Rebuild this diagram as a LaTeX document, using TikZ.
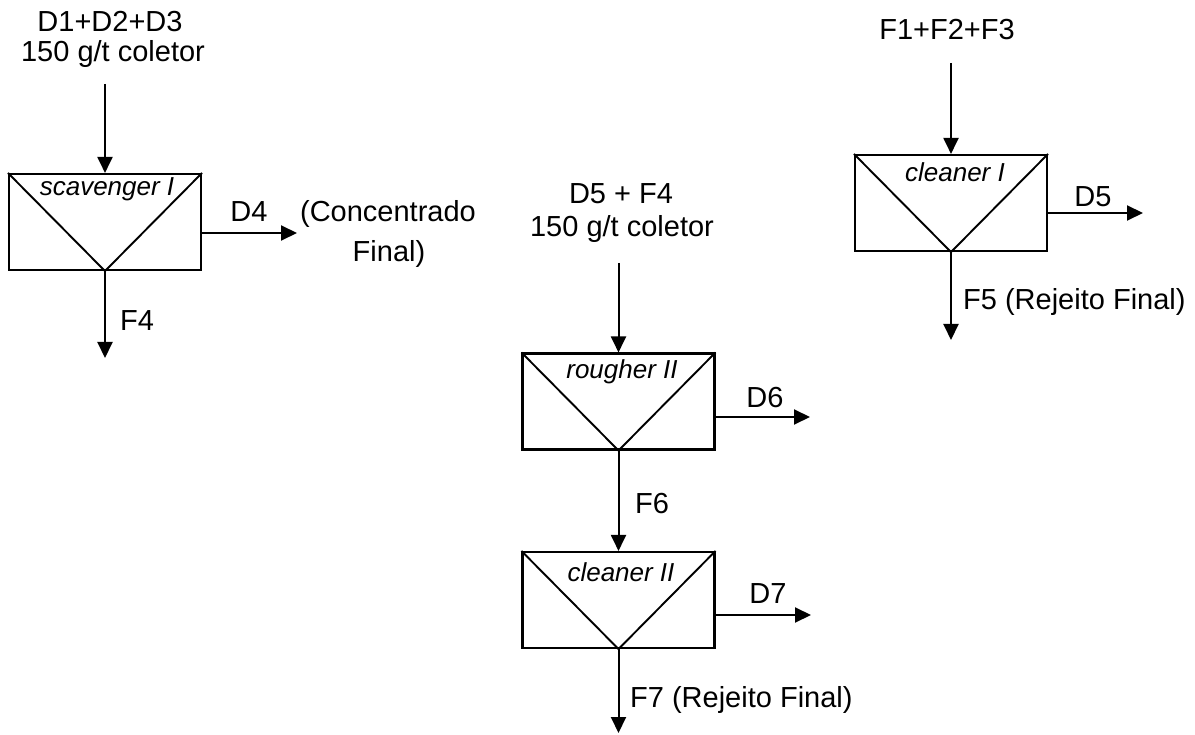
\documentclass[tikz,border=0pt]{standalone}
\usepackage{fontspec}
\setmainfont{Liberation Sans}
\usetikzlibrary{arrows.meta}
\begin{document}
\begin{tikzpicture}[x=1pt,y=-1pt,
  cell/.style={draw,line width=2.1pt,rectangle,minimum width=192pt,minimum height=96pt,inner sep=0pt},
  flow/.style={line width=2pt,-{Triangle[length=16pt,width=15pt]}},
  txt/.style={font=\fontsize{29}{33}\selectfont,inner sep=0pt,anchor=base},
  txtw/.style={txt,anchor=base west},
  lbl/.style={font=\fontsize{26}{28}\selectfont\itshape,inner sep=0pt,anchor=base}]
\useasboundingbox (0,0) rectangle (1195,735);

% cells
\node[cell] (scav) at (105,222) {};
\node[cell] (clI) at (951,203) {};
\node[cell] (rough) at (618.5,401.5) {};
\node[cell] (clII) at (618.5,600) {};

\foreach \c in {scav,clI,rough,clII}{
  \draw[line width=1.9pt] (\c.north west) -- (\c.south) -- (\c.north east);
}

% cell labels
\node[lbl] (lscav) at (107,196) {scavenger I};
\node[lbl] (lclI) at (955,182) {cleaner I};
\node[lbl] (lrough) at (622,379) {rougher II};
\node[lbl] (lclII) at (621,581) {cleaner II};

% texts
\node[txt] (s1) at (110,32) {D1+D2+D3};
\node[txt] (s2) at (113,62) {150 g/t coletor};
\node[txt] (d4) at (249,222) {D4};
\node[txt] (conc1) at (388,222) {(Concentrado};
\node[txt] (conc2) at (389,262) {Final)};
\node[txtw] (f4) at (120,331) {F4};

\node[txt] (r1) at (621,204) {D5 + F4};
\node[txt] (r2) at (622,237) {150 g/t coletor};
\node[txt] (d6) at (765,407) {D6};
\node[txtw] (f6) at (635,513) {F6};
\node[txt] (d7) at (768,603) {D7};
\node[txtw] (f7) at (630,707) {F7 (Rejeito Final)};

\node[txt] (c1) at (947,40) {F1+F2+F3};
\node[txt] (d5) at (1093,207) {D5};
\node[txtw] (f5) at (963,310) {F5 (Rejeito Final)};

% free ends
\coordinate (scavIn) at (105,84);
\coordinate (d4End) at (297,233);
\coordinate (f4End) at (105,358);
\coordinate (clIIn) at (951,63);
\coordinate (d5End) at (1143,213);
\coordinate (f5End) at (951,340);
\coordinate (roughIn) at (618.5,263);
\coordinate (d6End) at (810,417);
\coordinate (d7End) at (811,615);
\coordinate (f7End) at (618.5,733);

% connectors
\draw[flow] (scavIn) -- (scav.north);
\draw[flow] (scav.east |- d4End) -- (d4End);
\draw[flow] (scav.south) -- (f4End);

\draw[flow] (clIIn) -- (clI.north);
\draw[flow] (clI.east |- d5End) -- (d5End);
\draw[flow] (clI.south) -- (f5End);

\draw[flow] (roughIn) -- (rough.north);
\draw[flow] (rough.east |- d6End) -- (d6End);
\draw[flow] (rough.south) -- (clII.north);
\draw[flow] (clII.east |- d7End) -- (d7End);
\draw[flow] (clII.south) -- (f7End);
\end{tikzpicture}
\end{document}
